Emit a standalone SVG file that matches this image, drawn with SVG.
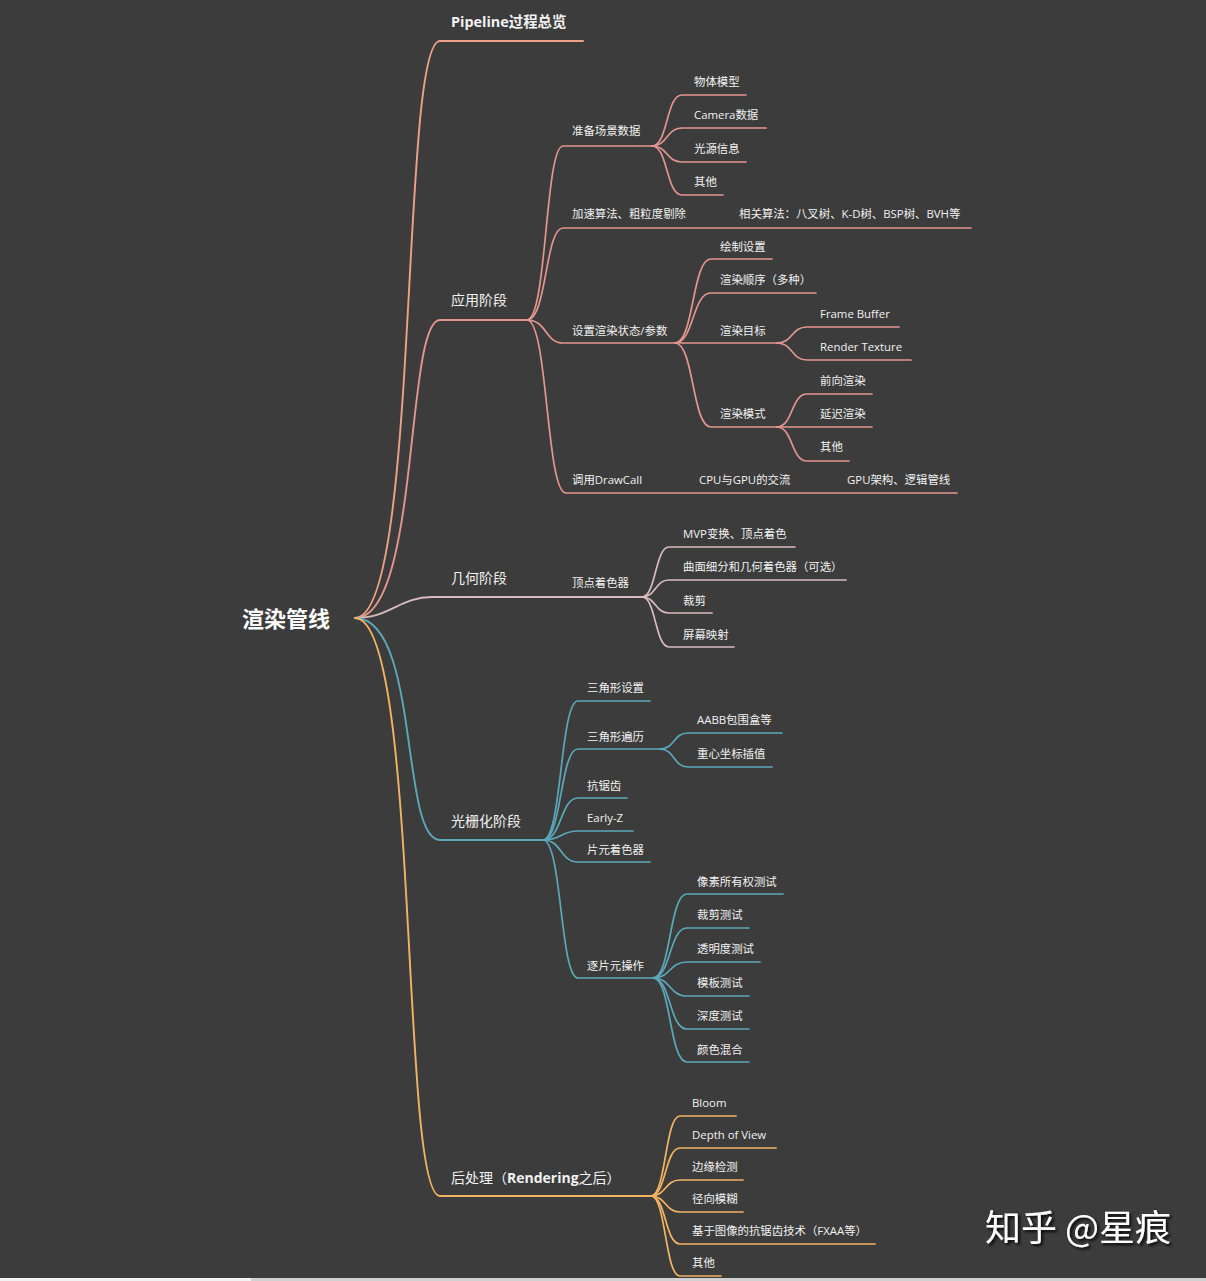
<svg xmlns="http://www.w3.org/2000/svg" width="1206" height="1281" viewBox="0 0 1206 1281">
<defs>
<filter id="sh" x="-10%" y="-20%" width="130%" height="160%">
<feDropShadow dx="2" dy="2" stdDeviation="1.5" flood-color="#000" flood-opacity="0.9"/>
</filter>
</defs>
<style>
text{font-family:"Open Sans","Noto Sans CJK SC",sans-serif;fill:#f2f2f2}
.t{font-size:11.4px}
.l1{font-size:14px}
.b{font-weight:bold}
.pl{font-size:14.4px}
.root{font-size:22px;font-weight:bold;fill:#ffffff}
.wm{font-size:36px;fill:#ffffff;font-family:"Noto Sans CJK SC",sans-serif}
path{fill:none;stroke-linecap:round}
.cp{stroke:#eca287;stroke-width:1.9}
.ca{stroke:#e3958f;stroke-width:1.7}
.ca1{stroke:#e3958f;stroke-width:1.9}
.cg{stroke:#d7bbbf;stroke-width:1.7}
.cg1{stroke:#d7bbbf;stroke-width:1.9}
.cr{stroke:#5ca8b8;stroke-width:1.7}
.cr1{stroke:#5ca8b8;stroke-width:1.9}
.co{stroke:#f2b463;stroke-width:1.7}
.co1{stroke:#f2b463;stroke-width:1.9}
</style>
<rect x="0" y="0" width="1206" height="1281" fill="#3c3c3c"/>
<rect x="0" y="1278" width="251" height="3" fill="#f2f2f2"/>
<rect x="251" y="1278" width="955" height="3" fill="#d2d2d2"/>

<g id="connectors">
<path class="cp" d="M355,618 C420,618 400,41 440,41 L583,41"/>
<path class="ca1" d="M355,618 C420,618 405,320 440,320 L527,320"/>
<path class="cg1" d="M355,618 C390,618 400,597 432,597 L642,597"/>
<path class="cr1" d="M355,618 C420,618 400,840 440,840 L543,840"/>
<path class="co1" d="M355,618 C420,618 400,1196 440,1196 L651,1196"/>

<path class="ca" d="M527,320 C547,320 545,146 563,146 L652,146"/>
<path class="ca" d="M527,320 C547,320 545,228 563,228 L971,228"/>
<path class="ca" d="M527,320 C547,320 545,343 563,343 L675,343"/>
<path class="ca" d="M527,320 C548,320 546,493 566,493 L957,493"/>

<path class="ca" d="M652,146 C668,146 666,95 682,95 L746,95"/>
<path class="ca" d="M652,146 C668,146 666,128 682,128 L766,128"/>
<path class="ca" d="M652,146 C668,146 666,162 682,162 L746,162"/>
<path class="ca" d="M652,146 C668,146 666,195 682,195 L723,195"/>

<path class="ca" d="M675,343 C694,343 692,259 711,259 L772,259"/>
<path class="ca" d="M675,343 C694,343 692,293 711,293 L816,293"/>
<path class="ca" d="M675,343 L777,343"/>
<path class="ca" d="M675,343 C694,343 692,427 711,427 L777,427"/>

<path class="ca" d="M777,343 C793,343 791,327 807,327 L899,327"/>
<path class="ca" d="M777,343 C793,343 791,360 807,360 L911,360"/>

<path class="ca" d="M777,427 C793,427 791,394 807,394 L872,394"/>
<path class="ca" d="M777,427 L872,427"/>
<path class="ca" d="M777,427 C793,427 791,461 807,461 L849,461"/>

<path class="cg" d="M642,597 C656,597 655,547 669,547 L795,547"/>
<path class="cg" d="M642,597 C656,597 655,580 669,580 L846,580"/>
<path class="cg" d="M642,597 C656,597 655,613 669,613 L712,613"/>
<path class="cg" d="M642,597 C656,597 655,647 669,647 L734,647"/>

<path class="cr" d="M543,840 C562,840 560,701 578,701 L650,701"/>
<path class="cr" d="M543,840 C562,840 560,749 578,749 L660,749"/>
<path class="cr" d="M543,840 C562,840 560,798 578,798 L627,798"/>
<path class="cr" d="M543,840 C562,840 560,831 578,831 L633,831"/>
<path class="cr" d="M543,840 C562,840 560,862 578,862 L650,862"/>
<path class="cr" d="M543,840 C562,840 560,978 578,978 L653,978"/>

<path class="cr" d="M660,749 C675,749 673,733 688,733 L782,733"/>
<path class="cr" d="M660,749 C675,749 673,767 688,767 L772,767"/>

<path class="cr" d="M653,978 C671,978 669,894 687,894 L783,894"/>
<path class="cr" d="M653,978 C671,978 669,928 687,928 L749,928"/>
<path class="cr" d="M653,978 C671,978 669,962 687,962 L760,962"/>
<path class="cr" d="M653,978 C671,978 669,996 687,996 L749,996"/>
<path class="cr" d="M653,978 C671,978 669,1029 687,1029 L749,1029"/>
<path class="cr" d="M653,978 C671,978 669,1062 687,1062 L749,1062"/>

<path class="co" d="M651,1196 C666,1196 665,1116 680,1116 L736,1116"/>
<path class="co" d="M651,1196 C666,1196 665,1148 680,1148 L776,1148"/>
<path class="co" d="M651,1196 C666,1196 665,1180 680,1180 L743,1180"/>
<path class="co" d="M651,1196 C666,1196 665,1212 680,1212 L743,1212"/>
<path class="co" d="M651,1196 C666,1196 665,1244 680,1244 L875,1244"/>
<path class="co" d="M651,1196 C666,1196 665,1276 680,1276 L721,1276"/>
</g>

<g id="root"><text class="root" x="242" y="627">渲染管线</text></g>

<g id="n-pipeline"><text class="pl b" x="451" y="27">Pipeline过程总览</text></g>

<g id="n-app"><text class="l1" x="451" y="305">应用阶段</text></g>
<g id="n-prep"><text class="t" x="572" y="135">准备场景数据</text></g>
<g id="n-model"><text class="t" x="694" y="86">物体模型</text></g>
<g id="n-camera"><text class="t" x="694" y="119">Camera数据</text></g>
<g id="n-light"><text class="t" x="694" y="153">光源信息</text></g>
<g id="n-other1"><text class="t" x="694" y="186">其他</text></g>
<g id="n-accel"><text class="t" x="572" y="218">加速算法、粗粒度剔除</text></g>
<g id="n-algo"><text class="t" x="739" y="218">相关算法：八叉树、K-D树、BSP树、BVH等</text></g>
<g id="n-state"><text class="t" x="572" y="335">设置渲染状态/参数</text></g>
<g id="n-drawset"><text class="t" x="720" y="251">绘制设置</text></g>
<g id="n-order"><text class="t" x="720" y="284">渲染顺序（多种）</text></g>
<g id="n-target"><text class="t" x="720" y="335">渲染目标</text></g>
<g id="n-fb"><text class="t" x="820" y="318">Frame Buffer</text></g>
<g id="n-rt"><text class="t" x="820" y="351">Render Texture</text></g>
<g id="n-mode"><text class="t" x="720" y="418">渲染模式</text></g>
<g id="n-forward"><text class="t" x="820" y="385">前向渲染</text></g>
<g id="n-deferred"><text class="t" x="820" y="418">延迟渲染</text></g>
<g id="n-other2"><text class="t" x="820" y="451">其他</text></g>
<g id="n-drawcall"><text class="t" x="572" y="484">调用DrawCall</text></g>
<g id="n-cpugpu"><text class="t" x="699" y="484">CPU与GPU的交流</text></g>
<g id="n-gpuarch"><text class="t" x="847" y="484">GPU架构、逻辑管线</text></g>

<g id="n-geom"><text class="l1" x="451" y="583">几何阶段</text></g>
<g id="n-vs"><text class="t" x="572" y="587">顶点着色器</text></g>
<g id="n-mvp"><text class="t" x="683" y="538">MVP变换、顶点着色</text></g>
<g id="n-tess"><text class="t" x="683" y="571">曲面细分和几何着色器（可选）</text></g>
<g id="n-clip"><text class="t" x="683" y="605">裁剪</text></g>
<g id="n-screen"><text class="t" x="683" y="639">屏幕映射</text></g>

<g id="n-raster"><text class="l1" x="451" y="826">光栅化阶段</text></g>
<g id="n-trisetup"><text class="t" x="587" y="692">三角形设置</text></g>
<g id="n-tritrav"><text class="t" x="587" y="741">三角形遍历</text></g>
<g id="n-aabb"><text class="t" x="697" y="724">AABB包围盒等</text></g>
<g id="n-bary"><text class="t" x="697" y="758">重心坐标插值</text></g>
<g id="n-aa"><text class="t" x="587" y="790">抗锯齿</text></g>
<g id="n-earlyz"><text class="t" x="587" y="822">Early-Z</text></g>
<g id="n-fs"><text class="t" x="587" y="854">片元着色器</text></g>
<g id="n-perfrag"><text class="t" x="587" y="970">逐片元操作</text></g>
<g id="n-owner"><text class="t" x="697" y="886">像素所有权测试</text></g>
<g id="n-scissor"><text class="t" x="697" y="919">裁剪测试</text></g>
<g id="n-alpha"><text class="t" x="697" y="953">透明度测试</text></g>
<g id="n-stencil"><text class="t" x="697" y="987">模板测试</text></g>
<g id="n-depth"><text class="t" x="697" y="1020">深度测试</text></g>
<g id="n-blend"><text class="t" x="697" y="1054">颜色混合</text></g>

<g id="n-post"><text class="l1" x="451" y="1183">后处理（<tspan class="b">Rendering</tspan>之后）</text></g>
<g id="n-bloom"><text class="t" x="692" y="1107">Bloom</text></g>
<g id="n-dov"><text class="t" x="692" y="1139">Depth of View</text></g>
<g id="n-edge"><text class="t" x="692" y="1171">边缘检测</text></g>
<g id="n-radial"><text class="t" x="692" y="1203">径向模糊</text></g>
<g id="n-fxaa"><text class="t" x="692" y="1235">基于图像的抗锯齿技术（FXAA等）</text></g>
<g id="n-other3"><text class="t" x="692" y="1267">其他</text></g>

<g id="watermark"><text class="wm" x="985" y="1241" filter="url(#sh)">知乎 @星痕</text></g>
</svg>
